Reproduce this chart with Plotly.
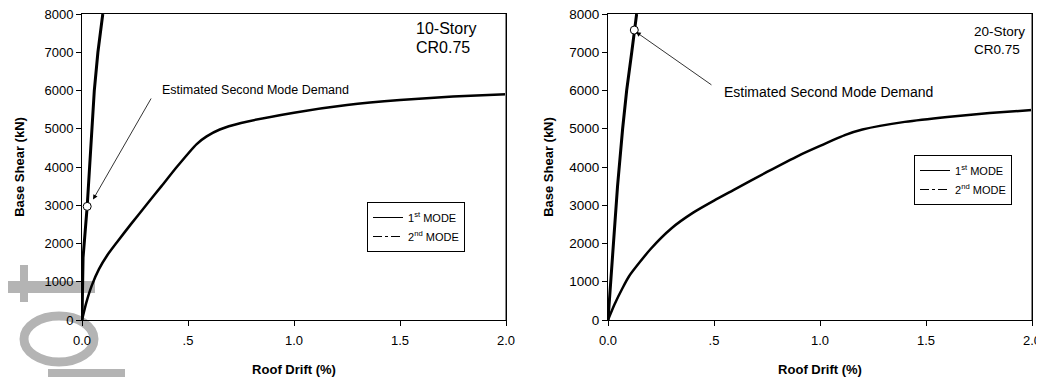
import plotly.graph_objects as go

# ---- data ----
x_ticks = [0.0, 0.5, 1.0, 1.5, 2.0]
x_ticktext = ["0.0", ".5", "1.0", "1.5", "2.0"]
y_ticks = [0, 1000, 2000, 3000, 4000, 5000, 6000, 7000, 8000]

drift_10_m1 = [0, 0.02, 0.046, 0.08, 0.12, 0.163, 0.23, 0.305, 0.375, 0.447, 0.541, 0.588, 0.65, 0.75, 1.0, 1.25, 1.5, 1.75, 2.0]
shear_10_m1 = [0, 450, 900, 1330, 1700, 2020, 2500, 3020, 3500, 4000, 4600, 4800, 4980, 5150, 5420, 5620, 5750, 5840, 5900]

drift_10_m2 = [0, 0.0015, 0.005, 0.0245, 0.047, 0.058, 0.075, 0.098]
shear_10_m2 = [0, 800, 1630, 2970, 5000, 6000, 7000, 8000]

drift_20_m1 = [0, 0.03, 0.07, 0.1, 0.2, 0.3, 0.4, 0.5, 0.6, 0.75, 0.9, 1.0, 1.12, 1.2, 1.4, 1.6, 1.8, 2.0]
shear_20_m1 = [0, 400, 850, 1150, 1850, 2400, 2800, 3120, 3420, 3870, 4300, 4550, 4840, 4980, 5180, 5310, 5410, 5490]

drift_20_m2 = [0, 0.01, 0.025, 0.045, 0.069, 0.088, 0.112, 0.124, 0.135]
shear_20_m2 = [0, 800, 2000, 3500, 5000, 6000, 7000, 7580, 8000]

demand_10 = (0.0245, 2970)
demand_20 = (0.124, 7580)

FONT = "Liberation Sans, Arial, sans-serif"
NB = "\u00a0\u00a0"

fig = go.Figure()

# curves
fig.add_trace(go.Scatter(x=drift_10_m1, y=shear_10_m1, mode="lines", line=dict(color="black", width=2.5, shape="spline", smoothing=0.6),
                         xaxis="x", yaxis="y", showlegend=False))
fig.add_trace(go.Scatter(x=drift_10_m2, y=shear_10_m2, mode="lines", line=dict(color="black", width=3),
                         xaxis="x", yaxis="y", showlegend=False))
fig.add_trace(go.Scatter(x=[demand_10[0]], y=[demand_10[1]], mode="markers",
                         marker=dict(color="white", size=8, line=dict(color="black", width=1)),
                         xaxis="x", yaxis="y", showlegend=False))

fig.add_trace(go.Scatter(x=drift_20_m1, y=shear_20_m1, mode="lines", line=dict(color="black", width=2.5, shape="spline", smoothing=0.6),
                         xaxis="x2", yaxis="y2", showlegend=False))
fig.add_trace(go.Scatter(x=drift_20_m2, y=shear_20_m2, mode="lines", line=dict(color="black", width=3),
                         xaxis="x2", yaxis="y2", showlegend=False))
fig.add_trace(go.Scatter(x=[demand_20[0]], y=[demand_20[1]], mode="markers",
                         marker=dict(color="white", size=8, line=dict(color="black", width=1)),
                         xaxis="x2", yaxis="y2", showlegend=False))

# legend entries
for leg, xa, ya in [("legend", "x", "y"), ("legend2", "x2", "y2")]:
    fig.add_trace(go.Scatter(x=[None], y=[None], mode="lines", name="1<sup>st</sup> MODE",
                             line=dict(color="black", width=1), xaxis=xa, yaxis=ya, legend=leg))
    fig.add_trace(go.Scatter(x=[None], y=[None], mode="lines", name="2<sup>nd</sup> MODE",
                             line=dict(color="black", width=1, dash="dashdot"), xaxis=xa, yaxis=ya, legend=leg))

def axis_common(fs):
    return dict(showline=True, linecolor="black", linewidth=1, mirror=True, showgrid=False, zeroline=False,
                automargin=False, ticks="outside", ticklen=5, tickcolor="black", ticklabeloverflow="allow",
                tickfont=dict(family=FONT, size=fs, color="black"))

xdom1 = [0, 424 / 950]
xdom2 = [(608 - 82) / 950, 1]

title_font = dict(family=FONT, size=13, color="black")

fig.update_layout(
    template="none",
    width=1036, height=369,
    margin=dict(l=74, r=12, t=6, b=57),
    paper_bgcolor="white", plot_bgcolor="white",
    font=dict(family=FONT, color="black"),
    xaxis=dict(domain=xdom1, range=[0, 2.0], tickvals=x_ticks, ticktext=x_ticktext, anchor="y", ticklabelstandoff=3,
               title=dict(text="<b>Roof Drift (%)</b>", font=title_font, standoff=20), **axis_common(13)),
    yaxis=dict(range=[0, 8000], tickvals=y_ticks, anchor="x", ticksuffix=NB,
               title=dict(text="<b>Base Shear (kN)</b>", font=title_font, standoff=16), **axis_common(13)),
    xaxis2=dict(domain=xdom2, range=[0, 2.0], tickvals=x_ticks, ticktext=x_ticktext, anchor="y2", ticklabelstandoff=3,
                title=dict(text="<b>Roof Drift (%)</b>", font=title_font, standoff=20), **axis_common(13)),
    yaxis2=dict(range=[0, 8000], tickvals=y_ticks, anchor="x2", ticksuffix=NB,
                title=dict(text="<b>Base Shear (kN)</b>", font=title_font, standoff=12), **axis_common(13.5)),
    legend=dict(x=(367 - 82) / 950, y=(320 - 202) / 306, xanchor="left", yanchor="top",
                bordercolor="black", borderwidth=1, bgcolor="white", font=dict(family=FONT, size=11),
                tracegroupgap=0, itemwidth=30),
    legend2=dict(x=(914 - 82) / 950, y=(320 - 155) / 306, xanchor="left", yanchor="top",
                 bordercolor="black", borderwidth=1, bgcolor="white", font=dict(family=FONT, size=11),
                 tracegroupgap=0, itemwidth=30),
    showlegend=True,
)

# gray right borders
fig.add_shape(type="line", xref="x", yref="y", x0=2.0, x1=2.0, y0=0, y1=8000, line=dict(color="#888888", width=2))
fig.add_shape(type="line", xref="x2", yref="y2", x0=2.0, x1=2.0, y0=0, y1=8000, line=dict(color="#888888", width=2))

# watermark-like gray logo in lower-left corner (paper coords; page pixel -> paper)
def px(xp):
    return (xp - 82) / 950

def py(yp):
    return (320 - yp) / 306

wm = "#b4b4b4"
fig.add_shape(type="rect", xref="paper", yref="paper", x0=px(20), x1=px(28), y0=py(302), y1=py(265),
              fillcolor=wm, line=dict(width=0), layer="below")
fig.add_shape(type="rect", xref="paper", yref="paper", x0=px(0), x1=px(95), y0=py(293), y1=py(281),
              fillcolor=wm, line=dict(width=0), layer="below")
fig.add_shape(type="circle", xref="paper", yref="paper", x0=px(24), x1=px(94), y0=py(362), y1=py(316),
              fillcolor="rgba(0,0,0,0)", line=dict(color=wm, width=9), layer="below")
fig.add_shape(type="rect", xref="paper", yref="paper", x0=px(48), x1=px(125), y0=py(382), y1=py(369),
              fillcolor=wm, line=dict(width=0), layer="below")

# story labels
story_font_l = dict(family=FONT, size=16, color="black")
story_font_r = dict(family=FONT, size=13.5, color="black")
fig.add_annotation(xref="x", yref="y", x=1.566, y=7612, text="10-Story", showarrow=False,
                   xanchor="left", yanchor="middle", font=story_font_l)
fig.add_annotation(xref="x", yref="y", x=1.566, y=7113, text="CR0.75", showarrow=False,
                   xanchor="left", yanchor="middle", font=story_font_l)
fig.add_annotation(xref="x2", yref="y2", x=1.716, y=7530, text="20-Story", showarrow=False,
                   xanchor="left", yanchor="middle", font=story_font_r)
fig.add_annotation(xref="x2", yref="y2", x=1.716, y=7060, text="CR0.75", showarrow=False,
                   xanchor="left", yanchor="middle", font=story_font_r)

# demand annotations
fig.add_annotation(xref="x", yref="y", x=0.368, y=6010, text="Estimated Second Mode Demand", showarrow=False,
                   xanchor="left", yanchor="middle", font=dict(family=FONT, size=12.5, color="black"))
fig.add_annotation(xref="x", yref="y", x=0.052, y=3150, ax=0.33, ay=5830, axref="x", ayref="y",
                   text="", showarrow=True, arrowhead=2, arrowsize=1.2, arrowwidth=0.8, arrowcolor="black")

fig.add_annotation(xref="x2", yref="y2", x=0.538, y=5960, text="Estimated Second Mode Demand", showarrow=False,
                   xanchor="left", yanchor="middle", font=dict(family=FONT, size=14, color="black"))
fig.add_annotation(xref="x2", yref="y2", x=0.132, y=7530, ax=0.495, ay=6120, axref="x2", ayref="y2",
                   text="", showarrow=True, arrowhead=2, arrowsize=1.2, arrowwidth=0.8, arrowcolor="black")

fig.write_html("out.html")
